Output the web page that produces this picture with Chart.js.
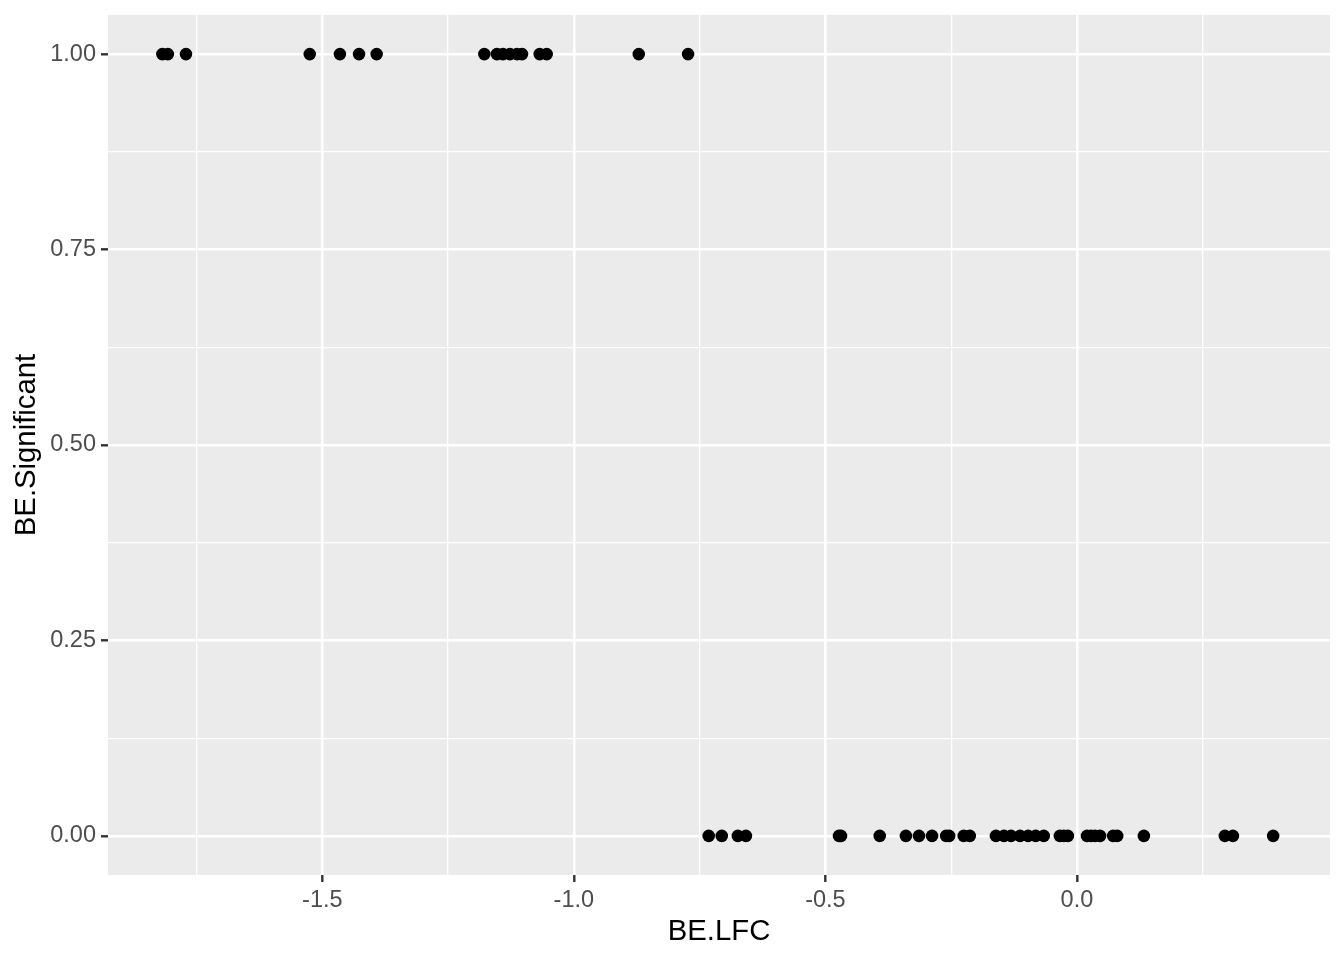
<!DOCTYPE html>
<html>
<head>
<meta charset="utf-8">
<script src="https://cdn.jsdelivr.net/npm/chart.js@4"></script>
<style>
  html, body { margin: 0; padding: 0; background: #ffffff; }
  #wrap { width: 1344px; height: 960px; }
</style>
</head>
<body>
<div id="wrap"><canvas id="scatter"></canvas></div>
<script>
// BE.LFC values, with BE.Significant (0/1) for each point
const sigLfc = [-1.818, -1.807, -1.771, -1.525, -1.465, -1.427, -1.392, -1.178, -1.153, -1.141,
    -1.127, -1.113, -1.103, -1.068, -1.054, -0.871, -0.773];
const nonSigLfc = [-0.732, -0.706, -0.674, -0.658, -0.473, -0.469, -0.392, -0.340, -0.314, -0.288,
    -0.260, -0.254, -0.225, -0.213, -0.161, -0.145, -0.131, -0.113, -0.097, -0.082,
    -0.066, -0.034, -0.026, -0.018, 0.020, 0.028, 0.036, 0.046, 0.072, 0.080,
    0.133, 0.294, 0.310, 0.390];
const lfcValues = sigLfc.concat(nonSigLfc);
const significant = sigLfc.map(() => 1).concat(nonSigLfc.map(() => 0));

// ticks (major get labels, minor only grid lines)
const xMajorTicks = [-1.5, -1.0, -0.5, 0.0];
const xMinorTicks = [-1.75, -1.25, -0.75, -0.25, 0.25];
const yMajorTicks = [0, 0.25, 0.5, 0.75, 1.0];
const yMinorTicks = [0.125, 0.375, 0.625, 0.875];

const FONT = "'Liberation Sans', Arial, sans-serif";

const panelBg = {
    id: 'panelBg',
    beforeDraw(chart) {
        const { ctx, chartArea: a } = chart;
        ctx.save();
        ctx.fillStyle = '#ffffff';
        ctx.fillRect(0, 0, chart.width, chart.height);
        ctx.fillStyle = '#EBEBEB';
        ctx.fillRect(a.left, a.top, a.right - a.left, a.bottom - a.top);
        ctx.restore();
    }
};

function setTicks(major, minor) {
    return (scale) => {
        const all = major.map(v => ({ value: v, minor: false }))
            .concat(minor.map(v => ({ value: v, minor: true })));
        all.sort((a, b) => a.value - b.value);
        scale.ticks = all;
    };
}

const gridOpts = {
    color: '#ffffff',
    lineWidth: (c) => (c.tick && c.tick.minor ? 1.3 : 2.6),
    drawTicks: true,
    tickLength: 7,
    tickWidth: 2.4,
    tickColor: (c) => (c.tick && c.tick.minor ? 'rgba(0,0,0,0)' : '#333333')
};

const points = lfcValues.map((v, i) => ({ x: v, y: significant[i] }));

new Chart(document.getElementById('scatter').getContext('2d'), {
    type: 'scatter',
    data: {
        datasets: [{
            data: points,
            backgroundColor: '#000000',
            borderWidth: 0,
            pointRadius: 6.3,
            pointHoverRadius: 6.3
        }]
    },
    options: {
        responsive: true,
        maintainAspectRatio: false,
        animation: false,
        events: [],
        layout: { padding: { top: 15, right: 14, left: 0, bottom: 0 } },
        plugins: { legend: { display: false }, tooltip: { enabled: false } },
        scales: {
            x: {
                type: 'linear',
                min: -1.926,
                max: 0.503,
                afterBuildTicks: setTicks(xMajorTicks, xMinorTicks),
                afterFit: (s) => { s.height = 85; s.paddingLeft = 0; s.paddingRight = 0; },
                border: { display: false },
                grid: gridOpts,
                ticks: {
                    autoSkip: false,
                    maxRotation: 0,
                    padding: 4,
                    color: '#4D4D4D',
                    font: { family: FONT, size: 23.5 },
                    callback: (value, i, ticks) => (ticks[i].minor ? '' : Number(value).toFixed(1))
                },
                title: {
                    display: true,
                    text: 'BE.LFC',
                    color: '#000000',
                    font: { family: FONT, size: 29.3 },
                    padding: { top: 0, bottom: 11 }
                }
            },
            y: {
                type: 'linear',
                min: -0.05,
                max: 1.05,
                afterBuildTicks: setTicks(yMajorTicks, yMinorTicks),
                afterFit: (s) => { s.width = 108; s.paddingTop = 0; s.paddingBottom = 0; },
                border: { display: false },
                grid: gridOpts,
                ticks: {
                    autoSkip: false,
                    padding: 5,
                    color: '#4D4D4D',
                    font: { family: FONT, size: 23.5 },
                    callback: (value, i, ticks) => (ticks[i].minor ? '' : Number(value).toFixed(2))
                },
                title: {
                    display: true,
                    text: 'BE.Significant',
                    color: '#000000',
                    font: { family: FONT, size: 29.3 },
                    padding: { top: 9, bottom: 0 }
                }
            }
        }
    },
    plugins: [panelBg]
});
</script>
</body>
</html>
